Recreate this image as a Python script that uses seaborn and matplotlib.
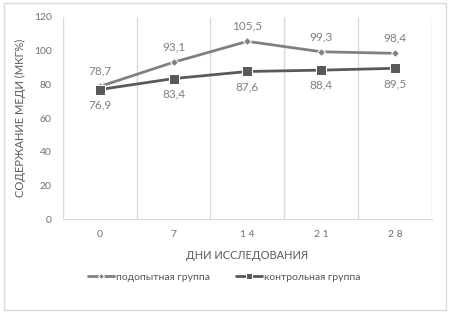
import matplotlib
matplotlib.use("Agg")
import matplotlib.pyplot as plt
import seaborn as sns
import pandas as pd
import numpy as np

days = ["0", "7", "1 4", "2 1", "2 8"]
experimental = [78.7, 93.1, 105.5, 99.3, 98.4]
control = [76.9, 83.4, 87.6, 88.4, 89.5]
exp_labels = ["78,7", "93,1", "105,5", "99,3", "98,4"]
ctrl_labels = ["76,9", "83,4", "87,6", "88,4", "89,5"]
series_names = ["подопытная группа", "контрольная группа"]

sns.set_style("white")
plt.rcParams["font.family"] = ["Lato", "DejaVu Sans"]

txt = "#595959"
grid = "#d9d9d9"

fig = plt.figure(figsize=(4.49, 3.13), dpi=100)
ax = fig.add_axes([0.140, 0.300, 0.822, 0.646])

pos = np.arange(len(days))
df = pd.DataFrame({
    "pos": np.concatenate([pos, pos]),
    "val": experimental + control,
    "grp": [series_names[0]] * len(days) + [series_names[1]] * len(days),
})

sns.lineplot(data=df, x="pos", y="val", hue="grp", style="grp",
             palette=["#808080", "#595959"], markers=["D", "s"], dashes=False,
             markersize=5, linewidth=2, ax=ax, legend=True)
# bigger square for control
for line in ax.lines:
    if line.get_marker() == "s":
        line.set_markersize(7)
    elif line.get_marker() == "D":
        line.set_markersize(4.5)

for x, v, s in zip(pos, experimental, exp_labels):
    ax.annotate(s, (x, v), xytext=(0, 7), textcoords="offset points",
                ha="center", va="bottom", fontsize=8.5, color="#7f7f7f")
for x, v, s in zip(pos, control, ctrl_labels):
    ax.annotate(s, (x, v), xytext=(0, -7), textcoords="offset points",
                ha="center", va="top", fontsize=8.5, color="#7f7f7f")

ax.set_xlim(-0.5, len(days) - 0.5)
ax.set_ylim(0, 120)
ax.set_yticks(range(0, 121, 20))
ax.set_xticks(pos)
ax.set_xticklabels(days)
ax.set_xticks(np.arange(-0.5, len(days), 1), minor=True)
ax.grid(False)
ax.grid(True, which="minor", axis="x", color=grid, linewidth=1)
ax.tick_params(which="both", length=0, labelsize=7.5, colors="#6f6f6f", pad=8)
for sp in ["top", "right", "left"]:
    ax.spines[sp].set_visible(False)
ax.spines["bottom"].set_color(grid)

ax.set_xlabel("ДНИ ИССЛЕДОВАНИЯ", fontsize=8, color=txt, labelpad=8)
ax.set_ylabel("СОДЕРЖАНИЕ МЕДИ (МКГ%)", fontsize=8, color=txt, labelpad=6)

handles, labels = ax.get_legend_handles_labels()
for h in handles:
    h.set_linewidth(2)
ax.legend(handles, labels, loc="center", bbox_to_anchor=(0.5, 0.115),
          bbox_transform=fig.transFigure, ncol=2, frameon=False,
          fontsize=7.5, labelcolor=txt, handlelength=2.5, handletextpad=0.2,
          columnspacing=2.5, markerscale=0.7)

fig.patches.append(plt.Rectangle((0.008, 0.01), 0.985, 0.98, transform=fig.transFigure,
                                 fill=False, edgecolor=grid, linewidth=1))

fig.savefig("out.png", dpi=100)
